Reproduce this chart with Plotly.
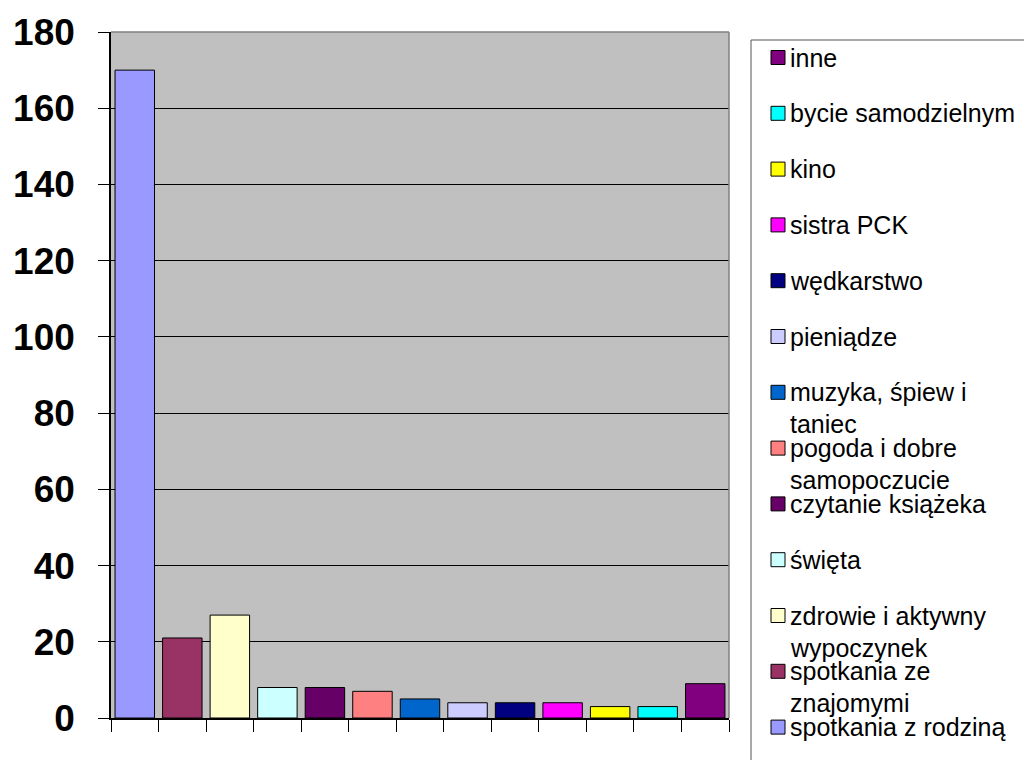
import plotly.graph_objects as go

# ---------------- data ----------------
categories = [
    "spotkania z rodziną",
    "spotkania ze znajomymi",
    "zdrowie i aktywny wypoczynek",
    "święta",
    "czytanie książeka",
    "pogoda i dobre samopoczucie",
    "muzyka, śpiew i taniec",
    "pieniądze",
    "wędkarstwo",
    "sistra PCK",
    "kino",
    "bycie samodzielnym",
    "inne",
]
values = [170, 21, 27, 8, 8, 7, 5, 4, 4, 4, 3, 3, 9]
colors = [
    "#9999FF", "#993366", "#FFFFCC", "#CCFFFF", "#660066", "#FF8080",
    "#0066CC", "#CCCCFF", "#000080", "#FF00FF", "#FFFF00", "#00FFFF", "#800080",
]
legend_labels = [
    "spotkania z rodziną",
    "spotkania ze<br>znajomymi",
    "zdrowie i aktywny<br>wypoczynek",
    "święta",
    "czytanie książeka",
    "pogoda i dobre<br>samopoczucie",
    "muzyka, śpiew i<br>taniec",
    "pieniądze",
    "wędkarstwo",
    "sistra PCK",
    "kino",
    "bycie samodzielnym",
    "inne",
]
y_ticks = [0, 20, 40, 60, 80, 100, 120, 140, 160, 180]

# ---------------- layout geometry ----------------
# the page body has an 8px margin, so the figure is sized to fit the window
OFF = 8
W, H = 1032 - OFF, 760 - OFF
ML, MR, MT, MB = 103, 303, 24, 42
PW, PH = W - ML - MR, H - MT - MB


def xp(px):
    """window pixel x -> paper coordinate"""
    return (px - OFF - ML) / PW


def yp(py):
    """window pixel y -> paper coordinate"""
    return (H - MB - (py - OFF)) / PH


fig = go.Figure()
for name, val, col in zip(categories, values, colors):
    fig.add_trace(go.Bar(
        x=[name], y=[val], name=name,
        marker=dict(color=col, line=dict(color="#000000", width=1)),
        showlegend=False,
    ))

shapes = []
annotations = []

# plot area border (top and right, gray)
shapes.append(dict(type="line", xref="paper", yref="paper", x0=0, x1=1, y0=1, y1=1,
                   line=dict(color="#808080", width=1.5), layer="above"))
shapes.append(dict(type="line", xref="paper", yref="paper", x0=1, x1=1, y0=0, y1=1,
                   line=dict(color="#808080", width=1.5), layer="above"))

# legend box (extends beyond the canvas like the reference)
shapes.append(dict(type="rect", xref="paper", yref="paper",
                   x0=xp(751), x1=xp(1060), y0=yp(40), y1=yp(790),
                   line=dict(color="#555555", width=1), fillcolor="rgba(0,0,0,0)"))

# legend entries (reversed order, like the reference)
first_y, step, line_step = 57.5, 55.8, 32
for i, idx in enumerate(reversed(range(len(categories)))):
    cy = first_y + i * step
    shapes.append(dict(type="rect", xref="paper", yref="paper",
                       x0=xp(771), x1=xp(785), y0=yp(cy + 7), y1=yp(cy - 7),
                       fillcolor=colors[idx], line=dict(color="#000000", width=1)))
    for j, line in enumerate(legend_labels[idx].split("<br>")):
        annotations.append(dict(
            xref="paper", yref="paper", x=xp(788), y=yp(cy + j * line_step),
            xanchor="left", yanchor="middle", showarrow=False, text=line,
            font=dict(family="Liberation Sans, Arial, sans-serif", size=25, color="#000000"),
        ))

fig.update_layout(
    template="none",
    width=W, height=H,
    margin=dict(l=ML, r=MR, t=MT, b=MB, pad=0, autoexpand=False),
    paper_bgcolor="#FFFFFF",
    plot_bgcolor="#C0C0C0",
    barmode="overlay",
    bargap=0.17,
    showlegend=False,
    shapes=shapes,
    annotations=annotations,
    xaxis=dict(
        type="category",
        automargin=False,
        categoryorder="array", categoryarray=categories,
        showticklabels=False,
        ticks="outside", ticklen=12, tickwidth=1, tickcolor="#000000",
        tickson="boundaries",
        showline=True, linecolor="#000000", linewidth=1.5,
        showgrid=False, zeroline=False,
    ),
    yaxis=dict(
        range=[0, 180],
        automargin=False,
        tickvals=y_ticks,
        ticks="outside", ticklen=11, tickwidth=1, tickcolor="#000000",
        ticklabelstandoff=16,
        tickfont=dict(family="Liberation Sans, Arial, sans-serif", size=37, color="#000000", weight="bold"),
        showline=True, linecolor="#000000", linewidth=1.5,
        showgrid=True, gridcolor="#000000", gridwidth=1,
        zeroline=False,
    ),
)

fig.write_html("out.html")
